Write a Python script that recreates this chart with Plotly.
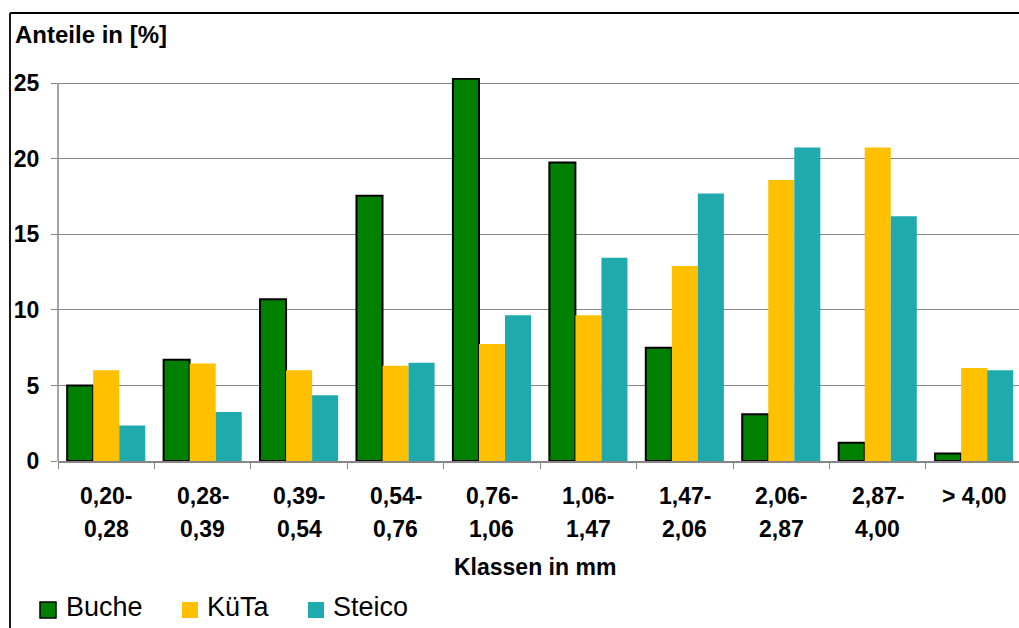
import plotly.graph_objects as go

# Size classes (mm), drawn as two-line labels under each group
kl_von = ["0,20-", "0,28-", "0,39-", "0,54-", "0,76-", "1,06-", "1,47-", "2,06-", "2,87-", "> 4,00"]
kl_bis = ["0,28", "0,39", "0,54", "0,76", "1,06", "1,47", "2,06", "2,87", "4,00", ""]
klassen = [a + b for a, b in zip(kl_von, kl_bis)]

# Share per class in %
buche = [5.0, 6.7, 10.7, 17.55, 25.3, 19.75, 7.5, 3.1, 1.2, 0.5]
kueta = [6.0, 6.45, 6.0, 6.3, 7.75, 9.65, 12.9, 18.6, 20.75, 6.15]
steico = [2.35, 3.25, 4.35, 6.5, 9.65, 13.45, 17.7, 20.75, 16.2, 6.0]

y_ticks = [0, 5, 10, 15, 20, 25]

FONT = "Liberation Sans, Arial, sans-serif"
GRID = "#868686"

serien = [
    ("Buche", buche, "#008000", dict(color="#000000", width=2)),
    ("KüTa", kueta, "#FFC000", dict(width=0)),
    ("Steico", steico, "#1FAAAE", dict(width=0)),
]

fig = go.Figure()
for name, werte, farbe, rand in serien:
    fig.add_trace(go.Bar(name=name, x=klassen, y=werte,
                         marker=dict(color=farbe, line=rand), showlegend=False))

# two-line class labels below the axis
annotations = []
for k, a, b in zip(klassen, kl_von, kl_bis):
    annotations.append(dict(x=k, y=0, xref="x", yref="paper", text=f"<b>{a}</b>",
                            showarrow=False, yanchor="middle", yshift=-35,
                            font=dict(family=FONT, size=23, color="#000")))
    if b:
        annotations.append(dict(x=k, y=0, xref="x", yref="paper", text=f"<b>{b}</b>",
                                showarrow=False, yanchor="middle", yshift=-68,
                                font=dict(family=FONT, size=23, color="#000")))

annotations.append(dict(x=0.5, y=0, xref="paper", yref="paper", text="<b>Klassen in mm</b>",
                        showarrow=False, yanchor="middle", yshift=-106, xshift=-4,
                        font=dict(family=FONT, size=23, color="#000")))
annotations.append(dict(x=0, y=1, xref="paper", yref="paper", text="<b>Anteile in [%]</b>",
                        showarrow=False, xanchor="left", yanchor="middle", xshift=-45, yshift=44,
                        font=dict(family=FONT, size=24, color="#000")))

shapes = [
    # chart frame (left and top edges)
    dict(type="line", xref="paper", yref="paper", xsizemode="pixel", ysizemode="pixel",
         xanchor=0, yanchor=0, x0=-48, x1=-48, y0=448, y1=-200,
         line=dict(color="#000", width=1.8)),
    dict(type="line", xref="paper", yref="paper", xsizemode="pixel", ysizemode="pixel",
         xanchor=0, yanchor=0, x0=-48, x1=1200, y0=448, y1=448,
         line=dict(color="#000", width=1.8)),
    # value axis line, from 0 up to the top tick
    dict(type="line", xref="paper", yref="y", x0=0, x1=0, y0=0, y1=y_ticks[-1],
         line=dict(color=GRID, width=1.5), layer="above"),
]

# legend row: square swatch + series name
legend_x = [(-18, 8), (124, 149), (250, 275)]
for (name, _, farbe, rand), (sx, tx) in zip(serien, legend_x):
    shapes.append(dict(type="rect", xref="paper", yref="paper", xsizemode="pixel", ysizemode="pixel",
                       xanchor=0, yanchor=0, x0=sx, x1=sx + 16, y0=-141, y1=-157,
                       fillcolor=farbe,
                       line=dict(color="#000", width=1.5) if rand.get("width") else dict(width=0)))
    annotations.append(dict(x=0, y=0, xref="paper", yref="paper", text=name, showarrow=False,
                            xanchor="left", yanchor="middle", xshift=tx - 2, yshift=-146,
                            font=dict(family=FONT, size=27, color="#000")))

fig.update_layout(
    width=1019, height=628,
    margin=dict(l=58, r=0, t=78, b=167),
    paper_bgcolor="white", plot_bgcolor="white",
    barmode="group", bargap=0.19, bargroupgap=0,
    font=dict(family=FONT, color="#000"),
    showlegend=False,
    annotations=annotations,
    shapes=shapes,
)
fig.update_xaxes(
    range=[-0.5, 9.465], showticklabels=False,
    showline=True, linecolor=GRID, linewidth=1.5,
    ticks="outside", tickson="boundaries", ticklen=6, tickcolor=GRID,
    showgrid=False, zeroline=False,
)
fig.update_yaxes(
    range=[0, 25.35], tickvals=y_ticks,
    showline=False,
    ticks="outside", ticklen=6, tickcolor=GRID, ticklabelstandoff=7,
    showgrid=True, gridcolor=GRID, gridwidth=1, zeroline=False,
    tickfont=dict(family=FONT, size=23, color="#000", weight="bold"),
)

fig.write_html("out.html")
